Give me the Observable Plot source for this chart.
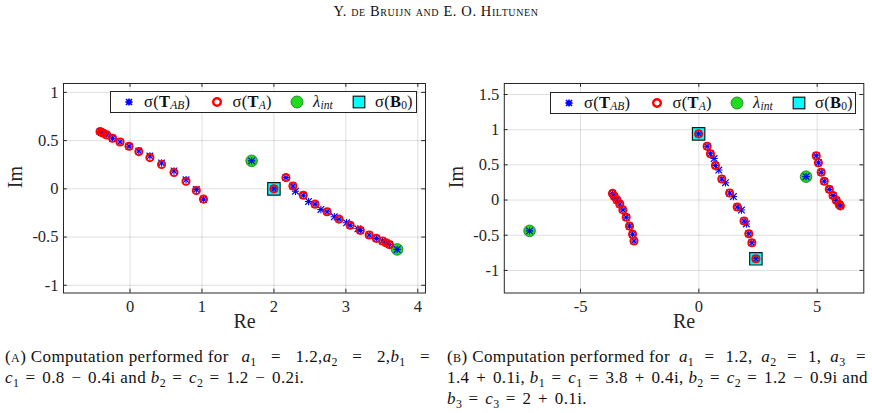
<!DOCTYPE html>
<html>
<head>
<meta charset="utf-8">
<script src="https://cdn.jsdelivr.net/npm/d3@7"></script>
<script src="https://cdn.jsdelivr.net/npm/@observablehq/plot@0.6"></script>
<style>
  html, body { margin: 0; padding: 0; background: #fff; }
  body { width: 872px; height: 413px; position: relative; overflow: hidden; font-family: "Liberation Serif", "DejaVu Serif", serif; color: #111; }
  #header { position: absolute; top: 3px; left: 0; width: 872px; text-align: center; font-size: 14.5px; font-variant: small-caps; letter-spacing: 0.6px; }
  .chart { position: absolute; top: 60px; }
  .legend { position: absolute; background: #fff; border: 1px solid #222; box-sizing: border-box; font-size: 16.5px; }
  .legend .item { position: absolute; top: 0; height: 100%; display: flex; align-items: center; white-space: nowrap; letter-spacing: 0.3px; }
  .legend svg { position: absolute; overflow: visible; }
  .caption { position: absolute; font-size: 17px; line-height: 21px; letter-spacing: 0.4px; }
  .caption div { text-align: justify; text-align-last: justify; white-space: normal; }
  .caption div.last { text-align-last: left; }
  .caption .ib { display: inline-block; white-space: nowrap; }
  .caption .op { margin: 0 0.12em; }
  sub { font-size: 70%; vertical-align: baseline; position: relative; top: 0.32em; line-height: 0; letter-spacing: 0; }
  .sc { font-variant: small-caps; }
</style>
</head>
<body>
<div id="header">Y. de Bruijn and E. O. Hiltunen</div>
<div id="left" class="chart" style="left:0px"></div>
<div id="right" class="chart" style="left:436px"></div>

<div class="caption" style="left:5px; top:346px; width:427px;">
  <div><span class="ib">(<span class="sc">a</span>) Computation performed for</span> <i>a</i><sub>1</sub> <span class="op">=</span> 1.2,<i>a</i><sub>2</sub> <span class="op">=</span> 2,<i>b</i><sub>1</sub> <span class="op">=</span></div>
  <div class="last"><i>c</i><sub>1</sub> <span class="op">=</span> 0.8 <span class="op">−</span> 0.4i and <i>b</i><sub>2</sub> <span class="op">=</span> <i>c</i><sub>2</sub> <span class="op">=</span> 1.2 <span class="op">−</span> 0.2i.</div>
</div>
<div class="caption" style="left:447px; top:346px; width:421px;">
  <div><span class="ib">(<span class="sc">b</span>) Computation performed for</span> <i>a</i><sub>1</sub> <span class="op">=</span> 1.2, <i>a</i><sub>2</sub> <span class="op">=</span> 1, <i>a</i><sub>3</sub> <span class="op">=</span></div>
  <div>1.4 <span class="op">+</span> 0.1i, <i>b</i><sub>1</sub> <span class="op">=</span> <i>c</i><sub>1</sub> <span class="op">=</span> 3.8 <span class="op">+</span> 0.4i, <i>b</i><sub>2</sub> <span class="op">=</span> <i>c</i><sub>2</sub> <span class="op">=</span> 1.2 <span class="op">−</span> 0.9i and</div>
  <div class="last"><i>b</i><sub>3</sub> <span class="op">=</span> <i>c</i><sub>3</sub> <span class="op">=</span> 2 <span class="op">+</span> 0.1i.</div>
</div>

<script>
// ---------------- DATA ----------------
// Panel (A)
const leftTAre = [-0.417, -0.395, -0.370, -0.324, -0.243, -0.139, -0.014, 0.122, 0.276, 0.438, 0.611, 0.778, 0.921, 1.021,
                  2.000,
                  2.167, 2.264, 2.408, 2.572, 2.739, 2.905, 3.060, 3.201, 3.324, 3.424, 3.510, 3.560, 3.606];
const leftTAim = [0.593, 0.585, 0.576, 0.559, 0.524, 0.486, 0.441, 0.386, 0.324, 0.252, 0.169, 0.079, -0.017, -0.107,
                  0.000,
                  0.116, 0.029, -0.067, -0.159, -0.238, -0.314, -0.378, -0.431, -0.478, -0.514, -0.541, -0.560, -0.578];
const leftTABre = [-0.417, -0.395, -0.370, -0.324, -0.243, -0.139, -0.014, 0.122, 0.276, 0.438, 0.611, 0.778, 0.921, 1.021,
                   2.000, 1.690,
                   2.167, 2.264, 2.300, 2.408, 2.482, 2.572, 2.653, 2.739, 2.839, 2.905, 3.010, 3.060, 3.167, 3.201,
                   3.324, 3.424, 3.510, 3.560, 3.606, 3.713];
const leftTABim = [0.593, 0.585, 0.576, 0.559, 0.524, 0.486, 0.441, 0.392, 0.340, 0.268, 0.185, 0.094, -0.008, -0.107,
                   0.000, 0.290,
                   0.116, 0.029, -0.025, -0.067, -0.131, -0.159, -0.214, -0.238, -0.290, -0.314, -0.352, -0.378, -0.414, -0.431,
                   -0.478, -0.514, -0.541, -0.560, -0.578, -0.628];
const leftLambdaRe = [1.690, 3.713];
const leftLambdaIm = [0.290, -0.628];
const leftB0Re = [2.000];
const leftB0Im = [0.000];
const leftXTicks = [0, 1, 2, 3, 4];
const leftYTicks = [-1, -0.5, 0, 0.5, 1];

// Panel (B)
const rightTAre = [-3.65, -3.57, -3.46, -3.34, -3.21, -3.07, -2.93, -2.80, -2.74,
                   -0.01, 2.41,
                   0.35, 0.49, 0.70, 0.97, 1.30, 1.62, 1.91, 2.11, 2.24,
                   4.96, 5.05, 5.17, 5.30, 5.51, 5.67, 5.81, 5.93, 5.98];
const rightTAim = [0.094, 0.050, 0.000, -0.057, -0.140, -0.245, -0.370, -0.487, -0.582,
                   0.940, -0.835,
                   0.764, 0.657, 0.490, 0.300, 0.100, -0.100, -0.297, -0.480, -0.608,
                   0.629, 0.530, 0.395, 0.266, 0.152, 0.064, -0.005, -0.062, -0.083];
const rightTABre = [-3.65, -3.57, -3.46, -3.34, -3.21, -3.07, -2.93, -2.80, -2.74,
                    -0.01, 2.41, -7.153, 4.53,
                    0.35, 0.49, 0.645, 0.70, 0.843, 0.97, 1.125, 1.30, 1.46, 1.62, 1.80, 1.91, 2.01, 2.11, 2.24,
                    4.96, 5.05, 5.17, 5.30, 5.51, 5.67, 5.81, 5.93, 5.98];
const rightTABim = [0.094, 0.050, 0.000, -0.057, -0.140, -0.245, -0.370, -0.487, -0.582,
                    0.940, -0.835, -0.438, 0.332,
                    0.764, 0.657, 0.590, 0.490, 0.426, 0.300, 0.246, 0.100, 0.050, -0.100, -0.142, -0.297, -0.340, -0.480, -0.608,
                    0.629, 0.530, 0.395, 0.266, 0.152, 0.064, -0.005, -0.062, -0.083];
const rightLambdaRe = [-7.153, 4.53];
const rightLambdaIm = [-0.438, 0.332];
const rightB0Re = [-0.01, 2.41];
const rightB0Im = [0.940, -0.835];
const rightXTicks = [-5, 0, 5];
const rightYTicks = [-1, -0.5, 0, 0.5, 1, 1.5];

const xLabel = "Re";
const yLabel = "Im";
const legendLabels = [
  "σ(<b>T</b><sub><i>AB</i></sub>)",
  "σ(<b>T</b><sub><i>A</i></sub>)",
  "<i>λ</i><sub><i>int</i></sub>",
  "σ(<b>B</b><sub>0</sub>)"
];

// ---------------- STYLE ----------------
const C = {
  blue: "#0000ff", red: "#ff0000", green: "#1fdc1f", greenEdge: "#1d6e1d",
  cyan: "#00ffff", axis: "#262626"
};

function pts(re, im) { return re.map((x, i) => ({x, y: im[i]})); }

function makeChart(cfg) {
  const W = 436, H = 280, mt = 23, mb = 47.5;
  const plotH = H - mt - mb;
  const plotW = W - cfg.ml - cfg.mr;
  const ta = pts(cfg.taRe, cfg.taIm);
  const tab = pts(cfg.tabRe, cfg.tabIm);
  const lam = pts(cfg.lamRe, cfg.lamIm);
  const b0 = pts(cfg.b0Re, cfg.b0Im);
  const tl = 3.8;
  return Plot.plot({
    width: W, height: H,
    marginLeft: cfg.ml, marginRight: cfg.mr, marginTop: mt, marginBottom: mb,
    x: {domain: cfg.xDomain},
    y: {domain: cfg.yDomain},
    style: {fontFamily: '"Liberation Serif", serif', fontSize: "16px", color: C.axis, background: "transparent", overflow: "visible"},
    marks: [
      Plot.gridX({ticks: cfg.xTicks, stroke: "#000", strokeOpacity: 0.13}),
      Plot.gridY({ticks: cfg.yTicks, stroke: "#000", strokeOpacity: 0.13}),
      Plot.tickX(cfg.xTicks, {x: d => d, insetTop: plotH - tl, stroke: C.axis}),
      Plot.tickX(cfg.xTicks, {x: d => d, insetBottom: plotH - tl, stroke: C.axis}),
      Plot.tickY(cfg.yTicks, {y: d => d, insetRight: plotW - tl, stroke: C.axis}),
      Plot.tickY(cfg.yTicks, {y: d => d, insetLeft: plotW - tl, stroke: C.axis}),
      Plot.axisX({ticks: cfg.xTicks, tickSize: 0, tickPadding: 7, tickFormat: d => String(d), label: null, fontSize: 16.5}),
      Plot.axisY({ticks: cfg.yTicks, tickSize: 0, tickPadding: 5, tickFormat: d => String(d), label: null, fontSize: 16.5}),
      Plot.dot(b0, {x: "x", y: "y", symbol: "square", r: 7, fill: C.cyan, stroke: "#1a1a1a", strokeWidth: 1.2}),
      Plot.dot(lam, {x: "x", y: "y", r: 5.8, fill: C.green, stroke: C.greenEdge, strokeWidth: 0.8}),
      Plot.dot(tab, {x: "x", y: "y", symbol: "times", r: 3.1, stroke: C.blue, strokeWidth: 1.2}),
      Plot.dot(tab, {x: "x", y: "y", symbol: "plus", r: 2.5, stroke: C.blue, strokeWidth: 1.1}),
      Plot.dot(ta, {x: "x", y: "y", r: 3.6, fill: "none", stroke: C.red, strokeWidth: 1.9}),
      Plot.frame({stroke: C.axis, strokeWidth: 1}),
      Plot.text([xLabel], {text: d => d, frameAnchor: "bottom", dy: 35, fontSize: 20, fill: C.axis}),
      Plot.text([yLabel], {text: d => d, frameAnchor: "left", dx: -48, rotate: -90, fontSize: 20, fill: C.axis})
    ]
  });
}

document.getElementById("left").appendChild(makeChart({
  ml: 63, mr: 11,
  xDomain: [-0.925, 4.107], yDomain: [-1.08, 1.092],
  xTicks: leftXTicks, yTicks: leftYTicks,
  taRe: leftTAre, taIm: leftTAim, tabRe: leftTABre, tabIm: leftTABim,
  lamRe: leftLambdaRe, lamIm: leftLambdaIm, b0Re: leftB0Re, b0Im: leftB0Im
}));
document.getElementById("right").appendChild(makeChart({
  ml: 67.8, mr: 8.7,
  xDomain: [-8.22, 6.97], yDomain: [-1.321, 1.656],
  xTicks: rightXTicks, yTicks: rightYTicks,
  taRe: rightTAre, taIm: rightTAim, tabRe: rightTABre, tabIm: rightTABim,
  lamRe: rightLambdaRe, lamIm: rightLambdaIm, b0Re: rightB0Re, b0Im: rightB0Im
}));

// ---------------- LEGENDS ----------------
const markerSvgs = [
  `<line x1="-3" y1="-3" x2="3" y2="3" stroke="${C.blue}" stroke-width="1.6"/><line x1="-3" y1="3" x2="3" y2="-3" stroke="${C.blue}" stroke-width="1.6"/><line x1="-3.6" y1="0" x2="3.6" y2="0" stroke="${C.blue}" stroke-width="1.6"/><line x1="0" y1="-3.6" x2="0" y2="3.6" stroke="${C.blue}" stroke-width="1.6"/><circle r="2.6" fill="${C.blue}"/>`,
  `<circle r="3.8" fill="#fff" stroke="${C.red}" stroke-width="2.4"/>`,
  `<circle r="6" fill="${C.green}" stroke="${C.greenEdge}" stroke-width="0.8"/>`,
  `<rect x="-5.8" y="-5.8" width="11.6" height="11.6" fill="${C.cyan}" stroke="#1a1a1a" stroke-width="1.2"/>`
];
const markerX = [17.5, 106, 186, 247.7];
const textX = [33, 121.5, 202, 264];

function makeLegend(left, top, width, height) {
  const div = document.createElement("div");
  div.className = "legend";
  div.style.left = left + "px"; div.style.top = top + "px";
  div.style.width = width + "px"; div.style.height = height + "px";
  legendLabels.forEach((lab, i) => {
    const svg = document.createElementNS("http://www.w3.org/2000/svg", "svg");
    svg.setAttribute("width", 1); svg.setAttribute("height", 1);
    svg.style.left = markerX[i] + "px"; svg.style.top = (height / 2 - 1) + "px";
    svg.innerHTML = markerSvgs[i];
    div.appendChild(svg);
    const t = document.createElement("div");
    t.className = "item";
    t.style.left = textX[i] + "px";
    t.innerHTML = lab;
    div.appendChild(t);
  });
  document.body.appendChild(div);
}
makeLegend(110, 91, 307, 21.5);
makeLegend(550, 92, 306, 21.5);
</script>
</body>
</html>
